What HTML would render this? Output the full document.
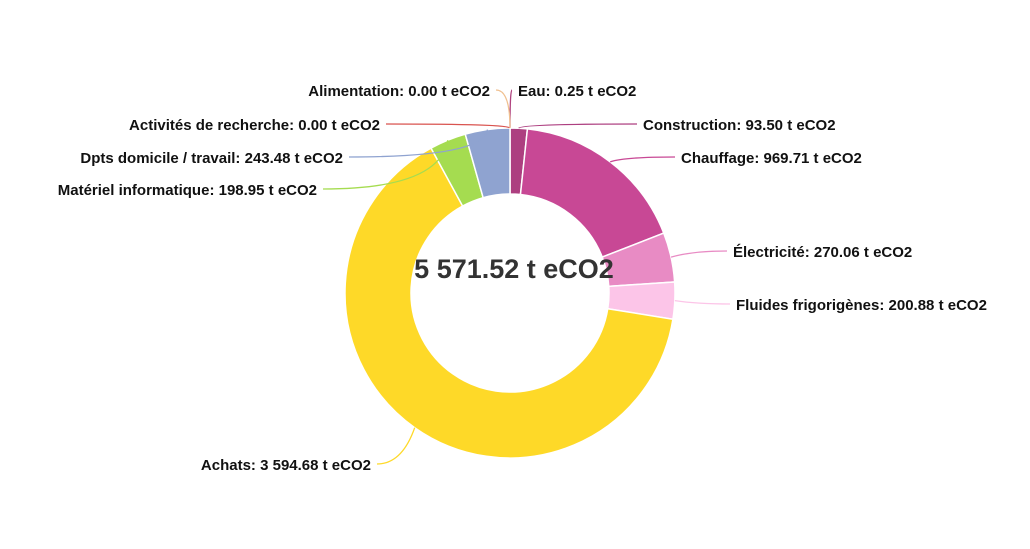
<!DOCTYPE html>
<html><head><meta charset="utf-8"><style>
html,body{margin:0;padding:0;background:#fff;}
svg{display:block;font-family:"Liberation Sans",sans-serif;}
</style></head><body>
<svg id="chart" width="1030" height="549"></svg>
<script>
const categories=["Eau","Construction","Chauffage","Électricité","Fluides frigorigènes","Achats","Matériel informatique","Dpts domicile / travail","Activités de recherche","Alimentation"];
const values=[0.25,93.50,969.71,270.06,200.88,3594.68,198.95,243.48,0.00,0.00];
const valueLabels=["0.25","93.50","969.71","270.06","200.88","3 594.68","198.95","243.48","0.00","0.00"];
const totalLabel="5 571.52 t eCO2";
const colors=["#b0437f","#ad3f80","#c84895","#e88bc4","#fcc5e8","#fed928","#a5dc50","#8fa3d0","#d9534f","#f0c090"];
// label anchors (layout): x, y, anchor
const labelPos=[[518,96,"start"],[643,130,"start"],[681,163,"start"],[733,257,"start"],[736,310,"start"],[371,470,"end"],[317,195,"end"],[343,163,"end"],[380,130,"end"],[490,96,"end"]];
const cx=510,cy=293,R=165,r=99;
const svg=document.getElementById('chart');
const NS="http://www.w3.org/2000/svg";
const total=values.reduce((a,b)=>a+b,0);
function pt(a,rad){return [cx+rad*Math.sin(a),cy-rad*Math.cos(a)];}
let a0=0;
values.forEach((v,i)=>{
  const a1=a0+v/total*2*Math.PI;
  const name=categories[i].toLowerCase().replace(/[^a-z]+/g,'-');
  if(v>0){
    const large=(a1-a0)>Math.PI?1:0;
    const p1=pt(a0,R),p2=pt(a1,R),p3=pt(a1,r),p4=pt(a0,r);
    const p=document.createElementNS(NS,'path');
    p.setAttribute('d',`M${p1[0]},${p1[1]} A${R},${R} 0 ${large} 1 ${p2[0]},${p2[1]} L${p3[0]},${p3[1]} A${r},${r} 0 ${large} 0 ${p4[0]},${p4[1]} Z`);
    p.setAttribute('fill',colors[i]);p.setAttribute('stroke','#fff');p.setAttribute('stroke-width','1.5');
    
    
    svg.appendChild(p);
  }
  const am=(a0+a1)/2;
  const s=pt(am,R),m=pt(am,R+22);
  const lp=labelPos[i];
  const ex=lp[2]==="start"?lp[0]-6:lp[0]+6, ey=lp[1]-6;
  const l=document.createElementNS(NS,'path');
  l.setAttribute('d',`M${s[0]},${s[1]} Q${m[0]},${ey} ${ex},${ey}`);
  l.setAttribute('fill','none');l.setAttribute('stroke',colors[i]);l.setAttribute('stroke-width','1.3');
  
  
  svg.appendChild(l);
  const t=document.createElementNS(NS,'text');
  t.setAttribute('x',lp[0]);t.setAttribute('y',lp[1]);t.setAttribute('text-anchor',lp[2]);
  t.setAttribute('font-size','15');t.setAttribute('font-weight','bold');t.setAttribute('fill','#111');
  t.textContent=categories[i]+": "+valueLabels[i]+" t eCO2";
  
  
  svg.appendChild(t);
  a0=a1;
});
const c=document.createElementNS(NS,'text');
c.setAttribute('x',514);c.setAttribute('y',278);c.setAttribute('text-anchor','middle');
c.setAttribute('font-size','27');c.setAttribute('font-weight','bold');c.setAttribute('fill','#333');
c.textContent=totalLabel;


svg.appendChild(c);
</script>
</body></html>
